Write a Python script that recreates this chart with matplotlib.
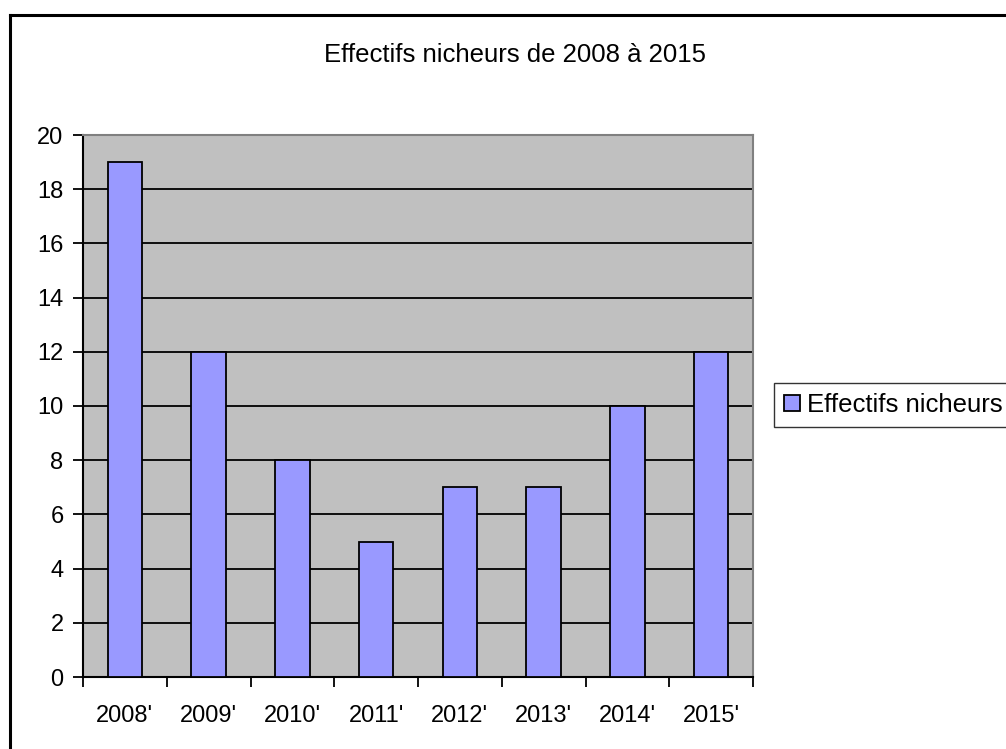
import matplotlib
matplotlib.use("Agg")
import matplotlib.pyplot as plt
from matplotlib.lines import Line2D
import numpy as np

plt.rcParams['font.family'] = ['Liberation Sans', 'DejaVu Sans']

categories = ["2008'", "2009'", "2010'", "2011'", "2012'", "2013'", "2014'", "2015'"]
values = [19, 12, 8, 5, 7, 7, 10, 12]
series_name = "Effectifs nicheurs"
title = "Effectifs nicheurs de 2008 à 2015"

W, H = 1006, 749
fig = plt.figure(figsize=(W / 100, H / 100), dpi=100)
fig.patch.set_facecolor('white')

ax = fig.add_axes([83 / W, 1 - 677 / H, (753 - 83) / W, (677 - 135) / H])
ax.set_facecolor('#C0C0C0')

x = np.arange(len(categories))
ax.bar(x, values, width=0.41, color='#9999FF', edgecolor='black', linewidth=1.3,
       label=series_name, zorder=3)

ax.set_xlim(-0.5, len(categories) - 0.5)
ax.set_ylim(0, 20)
ax.set_yticks(np.arange(0, 21, 2))
ax.yaxis.grid(True, color='black', linewidth=1.3, zorder=1)
ax.set_axisbelow(True)

ax.set_xticks(np.arange(-0.5, len(categories), 1.0))
ax.set_xticklabels([])
ax.set_xticks(x, minor=True)
ax.set_xticklabels(categories, minor=True)
ax.tick_params(axis='x', which='major', direction='out', length=7, width=1.3, color='black')
ax.tick_params(axis='x', which='minor', length=0, pad=20, labelsize=17)
ax.tick_params(axis='y', direction='out', length=7, width=1.3, pad=7, labelsize=17)

for side in ['left', 'bottom']:
    ax.spines[side].set_color('black')
    ax.spines[side].set_linewidth(1.5)
for side in ['top', 'right']:
    ax.spines[side].set_color('#808080')
    ax.spines[side].set_linewidth(1.5)

fig.text(515 / W, 1 - 55 / H, title, ha='center', va='center', fontsize=18.5)

leg = fig.legend(loc='center left', bbox_to_anchor=(774 / W, 1 - 405 / H),
                 fontsize=18.5, frameon=True, fancybox=False, edgecolor='black',
                 handlelength=0.6, handleheight=0.6, handletextpad=0.3,
                 borderpad=0.4, borderaxespad=0)
leg.get_frame().set_linewidth(1.0)

# outer chart frame (cut off at right and bottom)
fig.add_artist(Line2D([10 / W, 10 / W], [0, 1 - 15 / H], color='black', linewidth=2.2,
                      transform=fig.transFigure))
fig.add_artist(Line2D([10 / W, 1.0], [1 - 15 / H, 1 - 15 / H], color='black', linewidth=2.2,
                      transform=fig.transFigure))

fig.savefig('out.png', dpi=100)
